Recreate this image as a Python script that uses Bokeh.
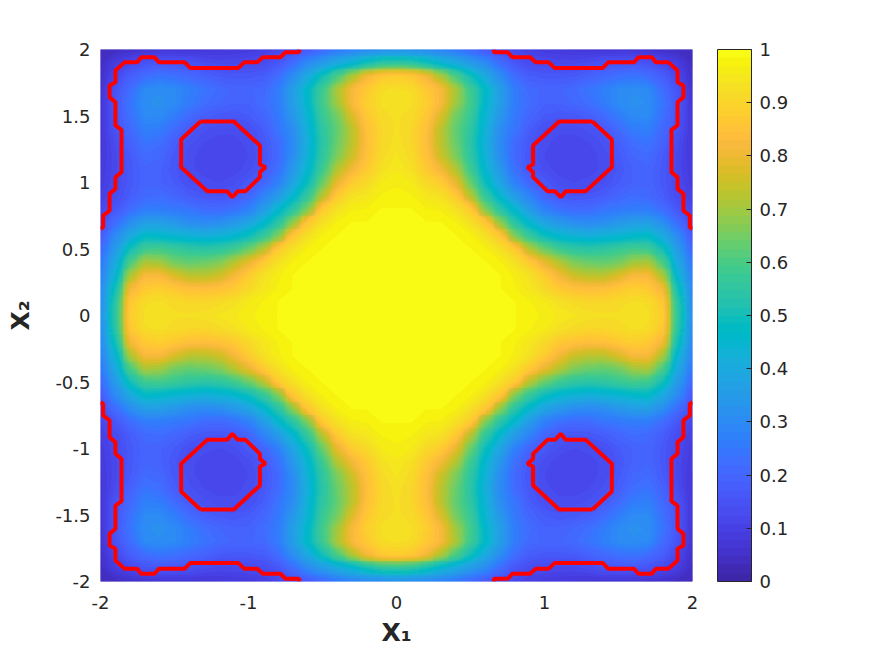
from bokeh.plotting import figure
from bokeh.models import LinearColorMapper, ColorBar, FixedTicker, Range1d
from bokeh.embed import file_html
from bokeh.resources import INLINE
import numpy as np

# parula colormap (64 levels)
PARULA = [
(0.2422,0.1504,0.6603),(0.2504,0.1650,0.7076),(0.2578,0.1818,0.7511),(0.2647,0.1978,0.7952),
(0.2706,0.2147,0.8364),(0.2751,0.2342,0.8710),(0.2783,0.2559,0.8991),(0.2803,0.2782,0.9221),
(0.2813,0.3006,0.9414),(0.2810,0.3228,0.9579),(0.2795,0.3447,0.9717),(0.2760,0.3667,0.9829),
(0.2699,0.3892,0.9906),(0.2602,0.4123,0.9952),(0.2440,0.4358,0.9988),(0.2206,0.4603,0.9973),
(0.1963,0.4847,0.9892),(0.1834,0.5074,0.9798),(0.1786,0.5289,0.9682),(0.1764,0.5499,0.9520),
(0.1687,0.5703,0.9359),(0.1540,0.5902,0.9218),(0.1460,0.6091,0.9079),(0.1380,0.6276,0.8973),
(0.1248,0.6459,0.8883),(0.1113,0.6635,0.8763),(0.0952,0.6798,0.8598),(0.0689,0.6948,0.8394),
(0.0297,0.7082,0.8163),(0.0036,0.7203,0.7917),(0.0067,0.7312,0.7660),(0.0433,0.7411,0.7394),
(0.0964,0.7500,0.7120),(0.1408,0.7584,0.6842),(0.1717,0.7670,0.6554),(0.1938,0.7758,0.6251),
(0.2161,0.7843,0.5923),(0.2470,0.7918,0.5567),(0.2906,0.7973,0.5188),(0.3406,0.8008,0.4789),
(0.3909,0.8029,0.4354),(0.4456,0.8024,0.3909),(0.5044,0.7993,0.3480),(0.5616,0.7942,0.3045),
(0.6174,0.7876,0.2612),(0.6720,0.7793,0.2227),(0.7242,0.7698,0.1910),(0.7738,0.7598,0.1646),
(0.8203,0.7498,0.1535),(0.8634,0.7406,0.1596),(0.9035,0.7330,0.1774),(0.9393,0.7288,0.2100),
(0.9728,0.7298,0.2394),(0.9956,0.7434,0.2371),(0.9970,0.7659,0.2199),(0.9952,0.7861,0.1996),
(0.9892,0.8086,0.1817),(0.9786,0.8310,0.1676),(0.9676,0.8538,0.1529),(0.9610,0.8770,0.1374),
(0.9597,0.9007,0.1155),(0.9626,0.9263,0.0853),(0.9691,0.9510,0.0552),(0.9769,0.9839,0.0805)]
palette = ["#%02x%02x%02x" % tuple(int(round(c*255)) for c in rgb) for rgb in PARULA]

# Surface on a 0.1 grid, for x2 = 0..2 (rows) and x1 = x2..2 (columns).
# The picture is symmetric in both axes and under x1 <-> x2.
tri = [
[1,1,1,1,1,1,1,.995,.985,.975,.965,.95,.94,.93,.925,.925,.93,.925,.88,.55,.32],
[1,1,1,1,1,.995,.99,.985,.97,.955,.93,.915,.905,.905,.915,.925,.92,.865,.54,.31],
[1,1,1,1,.995,.985,.97,.945,.91,.87,.85,.84,.845,.865,.885,.87,.81,.5,.30],
[1,1,1,.99,.985,.965,.93,.875,.81,.75,.73,.73,.77,.82,.82,.71,.44,.28],
[1,.995,.985,.97,.93,.87,.79,.72,.66,.64,.63,.65,.70,.71,.60,.40,.25],
[.985,.97,.93,.87,.72,.64,.58,.55,.54,.55,.57,.59,.58,.50,.35,.21],
[.93,.86,.66,.56,.49,.45,.43,.42,.43,.44,.46,.47,.40,.30,.17],
[.68,.54,.45,.38,.34,.31,.30,.31,.34,.36,.36,.31,.22,.14],
[.45,.35,.27,.23,.21,.215,.24,.25,.26,.26,.22,.16,.115],
[.28,.20,.165,.155,.16,.175,.20,.22,.21,.175,.13,.095],
[.165,.135,.125,.13,.14,.17,.19,.20,.165,.125,.085],
[.115,.113,.118,.13,.16,.19,.20,.165,.12,.08],
[.11,.118,.13,.165,.205,.215,.17,.12,.075],
[.125,.145,.18,.225,.24,.19,.13,.07],
[.17,.215,.26,.27,.21,.15,.07],
[.26,.30,.30,.23,.155,.07],
[.32,.31,.24,.16,.065],
[.30,.22,.15,.06],
[.18,.12,.05],
[.09,.04],
[.03],
]

# Red contour, upper-left quadrant (mirrored in both axes)
outer_x = [-2,-1.982,-1.982,-1.939,-1.939,-1.899,-1.899,-1.858,-1.858,-1.899,-1.899,-1.939,-1.939,-1.899,-1.899,-1.836,-1.752,-1.725,-1.635,-1.606,-1.432,-1.392,-1.07,-1.027,-.941,-.903,-.784,-.75,-.66,-.655]
outer_y = [.652,.664,.752,.789,.915,.952,1.04,1.078,1.396,1.429,1.604,1.642,1.729,1.754,1.842,1.905,1.905,1.942,1.942,1.905,1.905,1.86,1.86,1.905,1.905,1.942,1.942,1.98,1.98,2.0]
inner_x = [-1.324,-1.099,-.923,-.923,-.885,-.923,-.923,-1.02,-1.071,-1.11,-1.145,-1.279,-1.455,-1.455,-1.324]
inner_y = [1.459,1.459,1.278,1.135,1.115,1.078,1.04,.935,.935,.89,.935,.935,1.115,1.323,1.459]

ticks_x = [-2,-1,0,1,2]
ticks_y = [-2,-1.5,-1,-0.5,0,0.5,1,1.5,2]
cbar_ticks = [0,.1,.2,.3,.4,.5,.6,.7,.8,.9,1]

n = len(tri)
q = [[0.0]*n for _ in range(n)]
for i, row in enumerate(tri):
    for k, v in enumerate(row):
        q[i][i+k] = v
        q[i+k][i] = v
idx = list(range(n-1, 0, -1)) + list(range(n))
Z = np.array([[q[a][b] for b in idx] for a in idx], dtype=float)
grid = np.arange(-20, 21) / 10

INK = "#262626"
FONT = "DejaVu Sans"
mapper = LinearColorMapper(palette=palette, low=0, high=1)

p = figure(width=867, height=656, output_backend="svg", toolbar_location=None,
           x_range=Range1d(-2, 2), y_range=Range1d(-2, 2),
           min_border_left=100, min_border_right=175, min_border_top=49, min_border_bottom=75)
p.image(image=[Z], x=-2.05, y=-2.05, dw=4.1, dh=4.1, color_mapper=mapper)
levels = list(np.linspace(0, 1, 65))
levels[-1] = 1.001
p.contour(grid, grid, Z, levels=levels, fill_color=palette, line_color=None)

for sx in (1, -1):
    for sy in (1, -1):
        for xs, ys in ((outer_x, outer_y), (inner_x, inner_y)):
            p.line([-sx*v for v in xs], [sy*v for v in ys], line_color="#ff0000", line_width=4)

p.grid.visible = False
p.outline_line_color = None
p.xaxis.ticker = FixedTicker(ticks=ticks_x)
p.yaxis.ticker = FixedTicker(ticks=ticks_y)
for ax, lab, tk in ((p.xaxis[0], "X\u2081", ticks_x), (p.yaxis[0], "X\u2082", ticks_y)):
    ax.axis_line_color = None
    ax.major_tick_line_color = None
    ax.minor_tick_line_color = None
    ax.major_label_text_font = FONT
    ax.major_label_text_font_size = "18px"
    ax.major_label_text_color = INK
    ax.major_label_overrides = {t: ("%g" % t) for t in tk}
    ax.axis_label = lab
    ax.axis_label_text_font = FONT
    ax.axis_label_text_font_style = "bold"
    ax.axis_label_text_font_size = "25px"
    ax.axis_label_text_color = INK
p.xaxis[0].major_label_standoff = 8
p.yaxis[0].major_label_standoff = 4
p.yaxis[0].axis_label_standoff = 17
p.xaxis[0].axis_label_standoff = 6

cb = ColorBar(color_mapper=mapper, ticker=FixedTicker(ticks=cbar_ticks), width=34, height=532,
              location=(25, 0), margin=0, padding=0, bar_line_color=INK, bar_line_width=1,
              major_tick_in=5, major_tick_out=0, major_tick_line_color=INK,
              minor_tick_line_color=None, label_standoff=8,
              major_label_overrides={t: ("%g" % t) for t in cbar_ticks},
              major_label_text_font=FONT, major_label_text_font_size="18px",
              major_label_text_color=INK, border_line_color=None, background_fill_alpha=0)
p.add_layout(cb, "right")

open("out.html", "w").write(file_html(p, INLINE))
